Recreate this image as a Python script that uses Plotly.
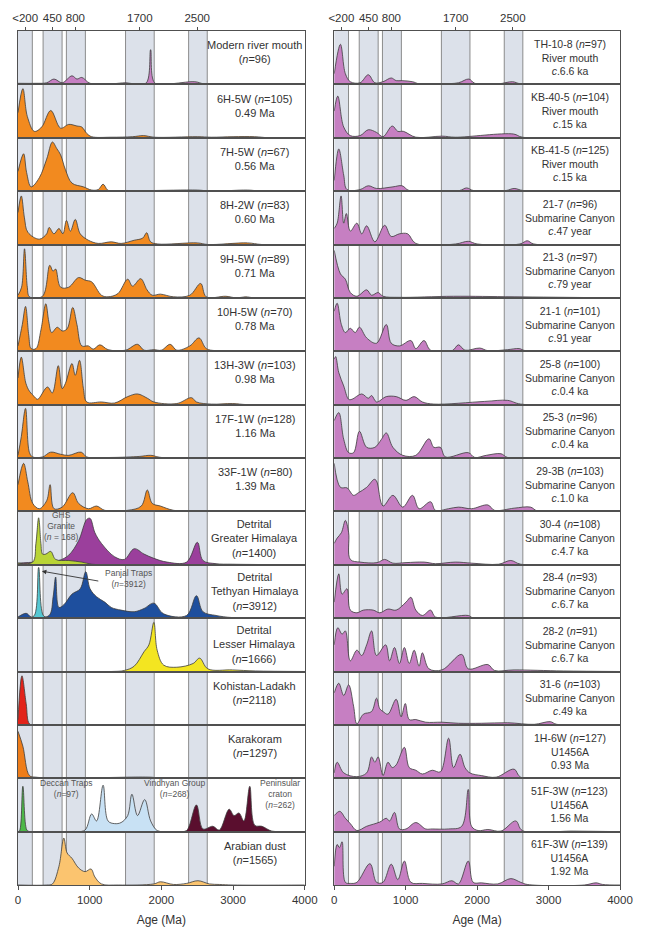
import plotly.graph_objects as go

# ---------------- age bands (Ma) and axis ticks ----------------
BANDS = [(0, 200), (350, 615), (675, 940), (1500, 1900), (2380, 2640)]
TOP_TICK_VALS = [100, 480, 800, 1700, 2500]
TOP_TICK_TEXT = ["<200", "450", "800", "1700", "2500"]
BOTTOM_TICKS = [0, 1000, 2000, 3000, 4000]

# ---------------- KDE curves: (age Ma, relative density) ----------------
# left column
MRM = [(0,0.02),(250,0.02),(400,0.03),(502,0.10),(616,0.03),(753,0.16),(822,0.10),(890,0.13),(1005,0.02),(1300,0.01),(1507,0.03),(1620,0.01),(1790,0.03),(1850,0.65),(1905,0.03),(2100,0.01),(2466,0.05),(2600,0.01),(4000,0)]
H6_5W = [(0,0.47),(68,0.92),(130,0.4),(228,0.12),(330,0.2),(457,0.51),(594,0.18),(708,0.25),(822,0.22),(890,0.2),(960,0.08),(1027,0.02),(1300,0.01),(1600,0.02),(1750,0.04),(1900,0.01),(2500,0.02),(2700,0.01),(3000,0.02),(3300,0.02),(3500,0),(4000,0)]
H7_5W = [(0,0.37),(78,0.70),(120,0.35),(183,0.08),(297,0.25),(400,0.6),(480,0.92),(540,0.8),(594,0.68),(662,0.4),(753,0.15),(913,0.08),(1027,0.02),(1120,0.03),(1187,0.13),(1250,0.02),(1301,0.01),(1800,0.01),(2500,0.02),(2700,0.0),(3200,0.02),(3400,0),(4000,0)]
H8_2W = [(0,0.6),(46,0.91),(90,0.5),(137,0.23),(297,0.1),(400,0.2),(434,0.32),(502,0.2),(571,0.30),(626,0.2),(676,0.45),(731,0.25),(799,0.47),(868,0.2),(982,0.08),(1119,0.02),(1301,0.05),(1438,0.02),(1621,0.08),(1740,0.12),(1795,0.22),(1850,0.05),(1950,0.01),(2500,0.03),(2650,0.0),(3200,0.03),(3400,0),(4000,0)]
H9_5W = [(0,0.05),(50,0.2),(91,0.92),(130,0.2),(160,0.02),(342,0.03),(443,0.61),(489,0.5),(525,0.54),(594,0.2),(708,0.2),(845,0.38),(940,0.33),(1027,0.3),(1164,0.05),(1256,0.02),(1393,0.08),(1530,0.35),(1598,0.22),(1712,0.36),(1800,0.15),(1872,0.05),(1986,0.07),(2169,0.02),(2397,0.05),(2548,0.27),(2626,0.02),(2900,0.03),(3050,0.0),(3174,0.02),(3300,0),(4000,0)]
H10_5W = [(0,0.1),(60,0.5),(105,0.84),(150,0.3),(183,0.05),(251,0.05),(320,0.4),(388,0.89),(430,0.55),(470,0.35),(548,0.45),(616,0.38),(685,0.42),(763,0.82),(822,0.5),(890,0.1),(982,0.1),(1050,0.04),(1142,0.12),(1256,0.03),(1500,0.02),(1667,0.13),(1758,0.02),(1895,0.03),(2000,0.02),(2123,0.13),(2215,0.02),(2397,0.1),(2525,0.25),(2626,0.05),(2763,0.01),(4000,0)]
H13_3W = [(0,0.5),(46,0.89),(110,0.4),(160,0.25),(228,0.15),(274,0.1),(411,0.33),(479,0.22),(562,0.73),(616,0.3),(662,0.4),(753,0.77),(799,0.55),(858,0.83),(913,0.3),(959,0.05),(1164,0.05),(1347,0.03),(1530,0.15),(1667,0.2),(1804,0.12),(1895,0.05),(2215,0.02),(2420,0.13),(2489,0.05),(2700,0.01),(2991,0.02),(3200,0),(4000,0)]
F17_1W = [(0,0.05),(46,0.4),(105,0.93),(160,0.1),(205,0.02),(342,0.02),(457,0.11),(594,0.07),(708,0.05),(881,0.11),(959,0.02),(1300,0.01),(1700,0.03),(1850,0.05),(2000,0.01),(4000,0)]
F33_1W = [(0,0.5),(78,0.9),(137,0.55),(205,0.15),(297,0.05),(400,0.2),(448,0.5),(502,0.05),(616,0.08),(763,0.35),(845,0.15),(982,0.05),(1096,0.1),(1210,0.02),(1530,0.02),(1720,0.1),(1804,0.4),(1872,0.15),(1986,0.1),(2169,0.02),(2500,0.01),(4000,0)]
GH_DETRITAL = [(0,0.03),(251,0.05),(450,0.06),(571,0.08),(708,0.18),(845,0.45),(959,0.85),(1005,0.87),(1073,0.6),(1164,0.4),(1347,0.15),(1484,0.1),(1621,0.3),(1758,0.2),(1895,0.12),(2078,0.05),(2352,0.05),(2502,0.42),(2580,0.08),(2763,0.02),(2991,0.01),(4000,0)]
GHS_GRANITE = [(0,0.03),(205,0.05),(250,0.4),(288,0.88),(320,0.4),(342,0.2),(388,0.2),(457,0.25),(525,0.1),(708,0.08),(890,0.05),(1027,0.01),(1200,0)]
TH_DETRITAL = [(0,0.02),(114,0.09),(183,0.02),(250,0.02),(434,0.05),(490,0.4),(525,0.77),(571,0.2),(639,0.25),(753,0.45),(868,0.55),(945,0.87),(1005,0.55),(1096,0.4),(1210,0.3),(1301,0.2),(1438,0.15),(1621,0.12),(1758,0.18),(1895,0.28),(2032,0.08),(2352,0.05),(2489,0.42),(2580,0.12),(2763,0.05),(2991,0.01),(4000,0)]
PANJAL = [(150,0),(228,0.05),(288,0.95),(352,0.05),(420,0)]
LH_DETRITAL = [(0,0),(1300,0),(1484,0.02),(1621,0.1),(1758,0.37),(1826,0.5),(1895,0.92),(1941,0.4),(2032,0.12),(2215,0.08),(2443,0.15),(2534,0.25),(2648,0.05),(2991,0.03),(3311,0.01),(4000,0)]
KOHISTAN = [(0,0.1),(55,0.92),(114,0.4),(160,0.02),(250,0),(4000,0)]
KARAKORAM = [(0,0.88),(68,0.6),(160,0.05),(251,0.02),(1000,0.01),(1850,0.02),(2000,0.0),(4000,0)]
DECCAN = [(0,0),(23,0.02),(68,0.85),(123,0.03),(160,0)]
VINDHYAN = [(800,0),(936,0.03),(1027,0.33),(1096,0.2),(1187,0.87),(1256,0.2),(1347,0.15),(1438,0.17),(1530,0.3),(1589,0.7),(1667,0.3),(1767,0.6),(1850,0.2),(1941,0.02),(2050,0)]
PENINSULAR = [(2250,0),(2352,0.02),(2489,0.5),(2580,0.05),(2717,0.1),(2808,0.03),(2945,0.42),(3014,0.3),(3082,0.35),(3151,0.2),(3233,0.85),(3302,0.12),(3402,0.1),(3539,0.01),(3700,0)]
ARABIAN = [(0,0),(400,0),(480,0.02),(571,0.35),(639,0.88),(685,0.6),(753,0.5),(845,0.32),(936,0.25),(1018,0.3),(1073,0.15),(1164,0.02),(1400,0),(1895,0.02),(1986,0.06),(2169,0.01),(2352,0.03),(2511,0.08),(2671,0.02),(2808,0.01),(3000,0),(4000,0)]

# right column
TH10_8 = [(0,0.2),(87,0.75),(156,0.2),(225,0.05),(362,0.03),(477,0.18),(569,0.03),(683,0.05),(798,0.12),(867,0.07),(950,0.07),(1096,0.05),(1188,0.01),(1500,0.01),(1739,0.03),(1885,0.1),(1968,0.02),(2300,0.01),(2495,0.05),(2610,0.01),(4000,0)]
KB40_5 = [(0,0.5),(50,0.78),(133,0.2),(225,0.04),(362,0.04),(477,0.15),(592,0.1),(683,0.02),(812,0.22),(890,0.12),(968,0.12),(1142,0.01),(1509,0.03),(1693,0.01),(2509,0.07),(2633,0.01),(4000,0)]
KB41_5 = [(0,0.2),(64,0.79),(133,0.3),(179,0.03),(362,0.03),(477,0.1),(592,0.05),(821,0.08),(950,0.1),(1050,0.01),(1750,0.01),(1853,0.06),(1950,0.01),(2400,0.01),(2518,0.05),(2650,0.01),(4000,0)]
S21_7 = [(0,0.3),(41,0.4),(96,0.91),(133,0.4),(170,0.58),(225,0.25),(317,0.4),(385,0.2),(454,0.35),(569,0.05),(706,0.36),(798,0.15),(913,0.2),(1028,0.2),(1142,0.02),(1700,0.01),(1876,0.06),(2000,0.01),(2600,0.01),(2702,0.07),(2793,0.01),(4000,0)]
S21_3 = [(0,0.89),(87,0.45),(156,0.35),(225,0.1),(317,0.03),(454,0.15),(523,0.05),(615,0.1),(683,0.03),(913,0.01),(1670,0.03),(2518,0.02),(4000,0)]
S21_1 = [(0,0.75),(41,0.9),(100,0.5),(156,0.35),(225,0.43),(294,0.35),(353,0.45),(454,0.25),(592,0.15),(729,0.5),(798,0.15),(913,0.1),(1073,0.2),(1142,0.05),(1257,0.2),(1349,0.02),(1650,0.01),(1739,0.12),(1830,0.02),(2037,0.06),(2151,0.01),(2427,0.03),(2587,0.05),(2679,0.01),(4000,0)]
S25_8 = [(0,0.85),(20,0.9),(64,0.6),(133,0.35),(202,0.1),(248,0.1),(385,0.2),(477,0.12),(523,0.17),(592,0.05),(729,0.15),(867,0.15),(1005,0.08),(1119,0.15),(1234,0.05),(1394,0.01),(2106,0.06),(2427,0.08),(2610,0.01),(4000,0)]
S25_3 = [(0,0.7),(64,0.85),(133,0.35),(202,0.1),(271,0.1),(353,0.5),(454,0.2),(569,0.2),(661,0.35),(729,0.47),(821,0.2),(959,0.05),(1142,0.05),(1326,0.36),(1394,0.2),(1486,0.2),(1555,0.02),(1876,0.1),(1968,0.01),(2128,0.05),(2335,0.08),(2427,0.01),(4000,0)]
S29_3B = [(0,0.9),(87,0.45),(179,0.44),(271,0.3),(339,0.35),(454,0.45),(560,0.6),(592,0.57),(683,0.1),(821,0.3),(959,0.08),(1096,0.3),(1188,0.05),(1349,0.18),(1417,0.02),(1601,0.05),(1739,0.08),(1922,0.05),(2151,0.12),(2243,0.02),(2518,0.06),(2747,0.08),(2839,0.01),(3160,0.01),(4000,0)]
S30_4 = [(0,0.4),(41,0.5),(100,0.6),(156,0.83),(202,0.6),(225,0.1),(362,0.05),(600,0.04),(706,0.1),(821,0.03),(1005,0.04),(1257,0.05),(1417,0.02),(1693,0.05),(1922,0.03),(2300,0.01),(2472,0.08),(2610,0.01),(4000,0)]
S28_4 = [(0,0.3),(64,0.83),(110,0.45),(179,0.55),(225,0.15),(317,0.1),(408,0.15),(546,0.15),(638,0.1),(752,0.17),(867,0.15),(1005,0.3),(1073,0.39),(1142,0.15),(1234,0.05),(1349,0.15),(1417,0.02),(1876,0.05),(1950,0.0),(2977,0.01),(4000,0)]
S28_2 = [(0,0.5),(50,0.82),(110,0.7),(156,0.76),(225,0.2),(317,0.4),(385,0.3),(454,0.5),(523,0.76),(592,0.3),(720,0.5),(775,0.2),(844,0.45),(913,0.15),(982,0.45),(1050,0.15),(1119,0.4),(1188,0.1),(1234,0.35),(1326,0.05),(1509,0.03),(1784,0.32),(1876,0.05),(2151,0.13),(2243,0.02),(2518,0.03),(3206,0.01),(4000,0)]
S31_6 = [(0,0.6),(64,0.78),(133,0.55),(202,0.75),(271,0.35),(317,0.02),(408,0.2),(523,0.25),(592,0.5),(638,0.3),(683,0.25),(752,0.2),(867,0.48),(936,0.15),(995,0.4),(1050,0.1),(1142,0.1),(1280,0.05),(1509,0.05),(1739,0.03),(2060,0.03),(2427,0.04),(2800,0.01),(3023,0.06),(3115,0.01),(4000,0)]
U1H_6W = [(0,0.1),(41,0.3),(133,0.1),(317,0.03),(454,0.1),(523,0.4),(569,0.3),(615,0.4),(683,0.05),(752,0.3),(812,0.2),(867,0.25),(982,0.58),(1050,0.2),(1142,0.15),(1234,0.08),(1372,0.15),(1486,0.12),(1601,0.75),(1670,0.2),(1761,0.45),(1830,0.2),(1899,0.1),(2060,0.05),(2266,0.02),(2518,0.17),(2610,0.02),(3665,0.01),(4000,0)]
U51F_3W = [(0,0.3),(78,0.38),(156,0.25),(225,0.15),(317,0.02),(454,0.1),(638,0.18),(729,0.25),(775,0.2),(844,0.36),(913,0.05),(1005,0.05),(1142,0.17),(1280,0.05),(1372,0.05),(1601,0.05),(1784,0.1),(1876,0.79),(1922,0.1),(2014,0.02),(2151,0.04),(2335,0.01),(2541,0.2),(2633,0.02),(3344,0.01),(4000,0)]
U61F_3W = [(0,0.35),(41,0.76),(73,0.7),(110,0.81),(156,0.05),(225,0.03),(317,0.05),(500,0.4),(592,0.05),(683,0.05),(798,0.39),(890,0.1),(982,0.45),(1073,0.05),(1234,0.03),(1509,0.02),(1647,0.08),(1739,0.02),(1876,0.45),(1945,0.05),(2060,0.04),(2289,0.02),(2472,0.12),(2610,0.05),(2702,0.01),(3500,0.0),(3665,0.04),(3757,0.01),(4000,0)]

# ---------------- colours ----------------
ORANGE = "#f28a1f"
PINK = "#c67fc2"
LEFT_PANELS = [
    [(MRM, PINK)], [(H6_5W, ORANGE)], [(H7_5W, ORANGE)], [(H8_2W, ORANGE)],
    [(H9_5W, ORANGE)], [(H10_5W, ORANGE)], [(H13_3W, ORANGE)], [(F17_1W, ORANGE)],
    [(F33_1W, ORANGE)],
    [(GH_DETRITAL, "#9b3f9c"), (GHS_GRANITE, "#b9d436")],
    [(TH_DETRITAL, "#1e4f9e"), (PANJAL, "#55c7d2")],
    [(LH_DETRITAL, "#f3e521")],
    [(KOHISTAN, "#e2231a")],
    [(KARAKORAM, "#ee7d1a")],
    [(DECCAN, "#4cb848"), (VINDHYAN, "#c8e1f4"), (PENINSULAR, "#5a0e2e")],
    [(ARABIAN, "#fbc46f")],
]
RIGHT_PANELS = [[(c, PINK)] for c in [TH10_8, KB40_5, KB41_5, S21_7, S21_3, S21_1, S25_8, S25_3,
                                       S29_3B, S30_4, S28_4, S28_2, S31_6, U1H_6W, U51F_3W, U61F_3W]]

LEFT_LABELS = [
    ["Modern river mouth", "(<i>n</i>=96)"],
    ["6H-5W (<i>n</i>=105)", "0.49 Ma"],
    ["7H-5W (<i>n</i>=67)", "0.56 Ma"],
    ["8H-2W (<i>n</i>=83)", "0.60 Ma"],
    ["9H-5W (<i>n</i>=89)", "0.71 Ma"],
    ["10H-5W (<i>n</i>=70)", "0.78 Ma"],
    ["13H-3W (<i>n</i>=103)", "0.98 Ma"],
    ["17F-1W (<i>n</i>=128)", "1.16 Ma"],
    ["33F-1W (<i>n</i>=80)", "1.39 Ma"],
    ["Detrital", "Greater Himalaya", "(<i>n</i>=1400)"],
    ["Detrital", "Tethyan Himalaya", "(<i>n</i>=3912)"],
    ["Detrital", "Lesser Himalaya", "(<i>n</i>=1666)"],
    ["Kohistan-Ladakh", "(<i>n</i>=2118)"],
    ["Karakoram", "(<i>n</i>=1297)"],
    [],
    ["Arabian dust", "(<i>n</i>=1565)"],
]
SC = "Submarine Canyon"
RIGHT_LABELS = [
    ["TH-10-8 (<i>n</i>=97)", "River mouth", "<i>c</i>.6.6 ka"],
    ["KB-40-5 (<i>n</i>=104)", "River mouth", "<i>c</i>.15 ka"],
    ["KB-41-5 (<i>n</i>=125)", "River mouth", "<i>c</i>.15 ka"],
    ["21-7 (<i>n</i>=96)", SC, "<i>c</i>.47 year"],
    ["21-3 (<i>n</i>=97)", SC, "<i>c</i>.79 year"],
    ["21-1 (<i>n</i>=101)", SC, "<i>c</i>.91 year"],
    ["25-8 (<i>n</i>=100)", SC, "<i>c</i>.0.4 ka"],
    ["25-3 (<i>n</i>=96)", SC, "<i>c</i>.0.4 ka"],
    ["29-3B (<i>n</i>=103)", SC, "<i>c</i>.1.0 ka"],
    ["30-4 (<i>n</i>=108)", SC, "<i>c</i>.4.7 ka"],
    ["28-4 (<i>n</i>=93)", SC, "<i>c</i>.6.7 ka"],
    ["28-2 (<i>n</i>=91)", SC, "<i>c</i>.6.7 ka"],
    ["31-6 (<i>n</i>=103)", SC, "<i>c</i>.49 ka"],
    ["1H-6W (<i>n</i>=127)", "U1456A", "0.93 Ma"],
    ["51F-3W (<i>n</i>=123)", "U1456A", "1.56 Ma"],
    ["61F-3W (<i>n</i>=139)", "U1456A", "1.92 Ma"],
]

# small in-panel source labels: (panel index, age, rel. height, text)
SOURCE_LABELS = [
    (9, 600, 0.72, "GHS<br>Granite<br>(<i>n</i> = 168)"),
    (10, 1548, 0.75, "Panjal Traps<br>(<i>n</i>=3912)"),
    (14, 671, 0.80, "Deccan Traps<br>(<i>n</i>=97)"),
    (14, 2190, 0.80, "Vindhyan Group<br>(<i>n</i>=268)"),
    (14, 3658, 0.70, "Peninsular<br>craton<br>(<i>n</i>=262)"),
]
PANJAL_ARROW = dict(panel=10, head=(333, 0.88), tail=(1141, 0.69))

# ---------------- figure ----------------
W, H = 645, 936
ML, MR, MT, MB = 15, 17, 27, 43
PW = W - ML - MR
NROW = 16
COL_DOM = [[0, 292 / PW], [322 / PW, 1]]
FONT = "Liberation Sans, Arial, sans-serif"
TXT = "#333333"
EDGE = "#505050"

fig = go.Figure()
layout = {}
annotations = []
shapes = []

def ax_id(n):
    return ("x" if n == 1 else f"x{n}"), ("y" if n == 1 else f"y{n}")

for c, (panels, labels) in enumerate([(LEFT_PANELS, LEFT_LABELS), (RIGHT_PANELS, RIGHT_LABELS)]):
    fs = 11 if c == 0 else 10.5
    for p in range(NROW):
        n = c * NROW + p + 1
        xid, yid = ax_id(n)
        y0 = 1 - (p + 1) / NROW
        y1 = 1 - p / NROW
        xa = dict(domain=COL_DOM[c], range=[0, 4000], anchor=yid, showline=True, mirror=True,
                  linecolor=EDGE, linewidth=1, showgrid=False, zeroline=False, fixedrange=True,
                  tickfont=dict(size=11.5, color=TXT, family=FONT))
        if p == 0:
            xa.update(side="top", tickvals=TOP_TICK_VALS, ticktext=TOP_TICK_TEXT, ticks="outside",
                      ticklen=3, tickcolor=EDGE)
        elif p == NROW - 1:
            xa.update(tickvals=BOTTOM_TICKS, ticks="outside", ticklen=4, tickcolor=EDGE,
                      title=dict(text="Age (Ma)", font=dict(size=12, color=TXT, family=FONT), standoff=10))
        else:
            xa.update(showticklabels=False, ticks="")
        ya = dict(domain=[y0, y1], range=[0, 1], anchor=xid, showline=True, mirror=True,
                  linecolor=EDGE, linewidth=1, showgrid=False, zeroline=False, showticklabels=False,
                  ticks="", fixedrange=True)
        layout["xaxis" if n == 1 else f"xaxis{n}"] = xa
        layout["yaxis" if n == 1 else f"yaxis{n}"] = ya

        for curve, col in panels[p]:
            fig.add_trace(go.Scatter(
                x=[a for a, _ in curve], y=[v for _, v in curve], xaxis=xid, yaxis=yid,
                mode="lines", line=dict(color="#3c3c3c", width=0.8, shape="spline", smoothing=1),
                fill="tozeroy", fillcolor=col, hoverinfo="skip", showlegend=False))

        # panel label: one text block, first line ~13 px below panel top
        lines = labels[p]
        if lines:
            step = 1.3 * fs
            first = 12.5 if len(lines) == 3 else 14
            centre = first + (len(lines) - 1) * step / 2
            annotations.append(dict(
                text="<br>".join(lines), xref=f"{xid} domain", yref=f"{yid} domain",
                x=0.825, y=1, xanchor="center", yanchor="middle", yshift=-centre,
                showarrow=False, align="center",
                font=dict(size=fs, color=TXT, family=FONT)))

    # grey age bands across the whole column
    xref = ax_id(c * NROW + 1)[0]
    for lo, hi in BANDS:
        shapes.append(dict(type="rect", xref=xref, yref="paper", x0=lo, x1=hi, y0=0, y1=1,
                           fillcolor="#dce1ea", line=dict(width=0), layer="below"))
        for e in (lo, hi):
            if e > 0:
                shapes.append(dict(type="line", xref=xref, yref="paper", x0=e, x1=e, y0=0, y1=1,
                                   line=dict(color="#808080", width=0.9), layer="below"))

for p, age, yv, txt in SOURCE_LABELS:
    xid, yid = ax_id(p + 1)
    annotations.append(dict(text=txt, xref=xid, yref=f"{yid} domain", x=age, y=yv,
                            xanchor="center", yanchor="middle", showarrow=False,
                            font=dict(size=8.5, color="#555555", family=FONT)))

xid, yid = ax_id(PANJAL_ARROW["panel"] + 1)
annotations.append(dict(text="", x=PANJAL_ARROW["head"][0], y=PANJAL_ARROW["head"][1],
                        xref=xid, yref=yid, axref=xid, ayref=yid,
                        ax=PANJAL_ARROW["tail"][0], ay=PANJAL_ARROW["tail"][1],
                        showarrow=True, arrowhead=2, arrowsize=1, arrowwidth=0.9,
                        arrowcolor="#333333"))

fig.update_layout(
    width=W, height=H, margin=dict(l=ML, r=MR, t=MT, b=MB),
    paper_bgcolor="white", plot_bgcolor="rgba(0,0,0,0)",
    annotations=annotations, shapes=shapes, showlegend=False,
    font=dict(family=FONT, color=TXT), **layout)

fig.write_html("out.html", include_plotlyjs=True, config={"displayModeBar": False})
